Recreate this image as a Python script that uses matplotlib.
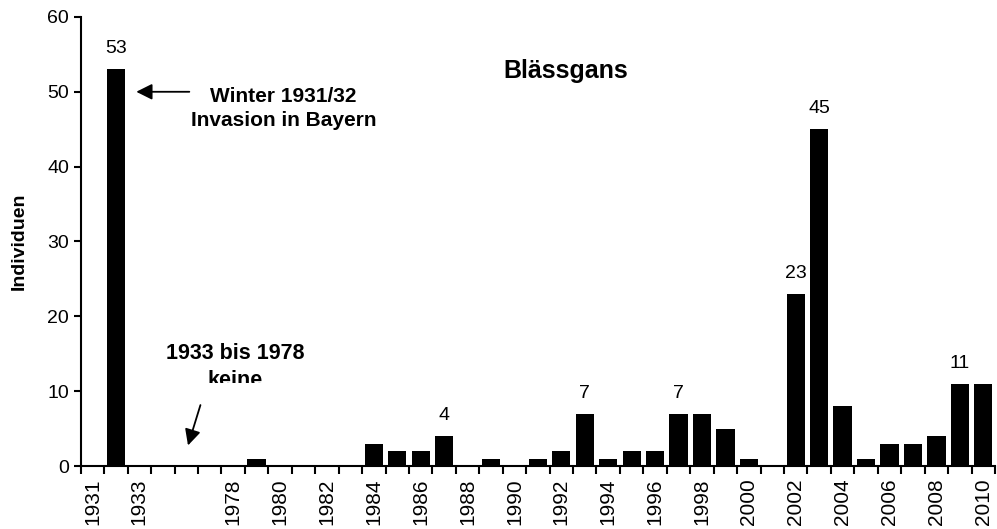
import numpy as np
import matplotlib.pyplot as plt
from matplotlib.transforms import Bbox, TransformedBbox

plt.rcParams['font.family'] = ['Liberation Sans', 'DejaVu Sans']

# Kategorien (drei leere Platzhalter fuer 1934-1977)
jahre = ["1931", "1932", "1933", "", "", ""] + [str(j) for j in range(1978, 2011)]
individuen = [0, 53, 0, 0, 0, 0,
              0, 1, 0, 0, 0, 0, 3, 2, 2, 4, 0, 1, 0, 1, 2, 7, 1, 2, 2, 7,
              7, 5, 1, 0, 23, 45, 8, 1, 3, 3, 4, 11, 11]
beschriftet = {"1932": "53", "1987": "4", "1993": "7", "1997": "7",
               "2002": "23", "2003": "45", "2009": "11"}

x = np.arange(len(jahre))

fig = plt.figure(figsize=(9.97, 5.29), dpi=100)
ax = fig.add_axes([0.081, 0.119, 0.917, 0.849])
ax.bar(x, individuen, width=0.78, color="black")

ax.set_xlim(-0.5, len(jahre) - 0.5)
ax.set_ylim(0, 60)
ax.set_yticks(range(0, 61, 10))
ax.tick_params(axis='y', labelsize=14, length=5, width=1.5, direction='out')

# Striche an den Kategoriegrenzen, Beschriftung jede zweite Kategorie
ax.set_xticks(np.arange(-0.5, len(jahre), 1.0))
ax.set_xticklabels([])
ax.tick_params(axis='x', which='major', length=6, width=1.5, direction='out')
ax.set_xticks(x[::2], minor=True)
ax.set_xticklabels(jahre[::2], minor=True, rotation=90, fontsize=15)
ax.tick_params(axis='x', which='minor', length=0, pad=9)

for s in ['top', 'right']:
    ax.spines[s].set_visible(False)
ax.spines['left'].set_linewidth(1.5)
ax.spines['bottom'].set_linewidth(1.5)

for i, j in enumerate(jahre):
    if j in beschriftet:
        ax.text(i, individuen[i] + 1.6, beschriftet[j], ha='center', va='bottom', fontsize=14)

ax.set_ylabel("Individuen", fontsize=14, fontweight='bold', labelpad=14)

ax.text(20.2, 52.8, "Blässgans", ha='center', va='center', fontsize=18, fontweight='bold')

ax.annotate("", xy=(1.75, 50), xytext=(4.25, 50),
            arrowprops=dict(arrowstyle='-|>', color='black', lw=1.3, mutation_scale=24))
ax.text(8.15, 47.8, "Winter 1931/32\nInvasion in Bayern", ha='center', va='center',
        fontsize=15, fontweight='bold', linespacing=1.35)

t = ax.text(6.1, 13.25, "1933 bis 1978\nkeine", ha='center', va='center',
            fontsize=15.5, fontweight='bold', linespacing=1.35)
# Textfeld unten abgeschnitten wie im Original
t.set_clip_on(True)
t.set_clip_box(TransformedBbox(Bbox([[0, 11.1], [20, 20]]), ax.transData))
ax.annotate("", xy=(4.04, 2.4), xytext=(4.64, 8.5),
            arrowprops=dict(arrowstyle='-|>', color='black', lw=1.3, mutation_scale=24))

fig.savefig("out.png", dpi=100)
